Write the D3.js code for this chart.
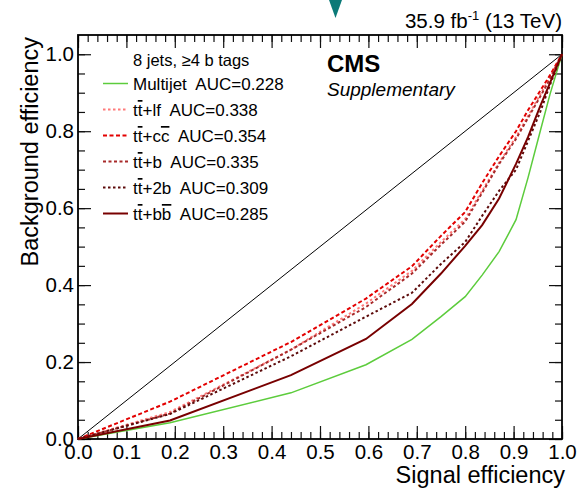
<!DOCTYPE html>
<html>
<head>
<meta charset="utf-8">
<script src="https://cdn.jsdelivr.net/npm/d3@7"></script>
<style>
  body { margin: 0; background: #fff; }
  svg { font-family: "Liberation Sans", Arial, Helvetica, sans-serif; }
</style>
</head>
<body>
<svg id="chart" width="583" height="490"></svg>
<script>
// signal efficiency at each cut point (same for every background)
const sigEff = [0, 0.19, 0.44, 0.595, 0.69, 0.75, 0.80, 0.835, 0.87, 0.905, 0.93, 0.955, 0.975, 1]
const bkgMultijet = [0, 0.042, 0.12, 0.193, 0.259, 0.318, 0.370, 0.426, 0.487, 0.57, 0.68, 0.80, 0.895, 1]
const bkgTTlf = [0, 0.07, 0.232, 0.352, 0.437, 0.512, 0.572, 0.645, 0.718, 0.785, 0.84, 0.895, 0.94, 1]
const bkgTTcc = [0, 0.097, 0.252, 0.365, 0.449, 0.528, 0.59, 0.665, 0.735, 0.80, 0.855, 0.905, 0.945, 1]
const bkgTTb = [0, 0.066, 0.232, 0.343, 0.43, 0.505, 0.565, 0.64, 0.715, 0.78, 0.835, 0.89, 0.935, 1]
const bkgTT2b = [0, 0.065, 0.215, 0.318, 0.38, 0.455, 0.512, 0.58, 0.645, 0.70, 0.775, 0.85, 0.92, 1]
const bkgTTbb = [0, 0.048, 0.166, 0.26, 0.351, 0.43, 0.502, 0.556, 0.625, 0.715, 0.785, 0.865, 0.925, 1]

// legend labels: [text, overlined?] pieces
const labels = [
  [['Multijet', false]],
  [['t', false], ['t', true], ['+lf', false]],
  [['t', false], ['t', true], ['+c', false], ['c', true]],
  [['t', false], ['t', true], ['+b', false]],
  [['t', false], ['t', true], ['+2b', false]],
  [['t', false], ['t', true], ['+b', false], ['b', true]]
]
const aucs = ['0.228', '0.338', '0.354', '0.335', '0.309', '0.285']
const xTicks = [0, 0.1, 0.2, 0.3, 0.4, 0.5, 0.6, 0.7, 0.8, 0.9, 1.0]
const yTicks = [0, 0.2, 0.4, 0.6, 0.8, 1.0]

const series = [bkgMultijet, bkgTTlf, bkgTTcc, bkgTTb, bkgTT2b, bkgTTbb]
const colors = ['#5ccc3c', '#ff7a7a', '#e30000', '#a82a2a', '#5c0a0a', '#780000']
const dashes = [null, '2.5,2.5', '4,2.5', '3,2.5', '2.5,2.5', null]
const widths = [1.5, 2, 2, 2, 2, 2]

const padL = 78, padR = 562, padT = 35, padB = 439
const svg = d3.select('#chart')

let xScale = d3.scaleLinear().domain([0, 1]).range([padL, padR])
let yScale = d3.scaleLinear().domain([0, 1.05]).range([padB, padT])

// tick helpers
let minorX = d3.range(0, 1.0001, 0.02)
let minorY = d3.range(0, 1.0001, 0.05)

let addAxis = function (axis, transform) {
  let g = svg.append('g').attr('transform', transform).call(axis)
  g.select('.domain').remove()
  g.selectAll('.tick line').attr('stroke', '#111').attr('stroke-width', 1.2)
  return g
}

let xb = addAxis(d3.axisBottom(xScale).tickValues(xTicks).tickSize(-13).tickPadding(5).tickFormat(d3.format('.1f')), `translate(0,${padB})`)
xb.selectAll('text').attr('font-size', 20.5).attr('fill', '#000').attr('font-family', 'inherit')
addAxis(d3.axisBottom(xScale).tickValues(minorX).tickSize(-7).tickFormat(''), `translate(0,${padB})`)
addAxis(d3.axisTop(xScale).tickValues(xTicks).tickSize(-13).tickFormat(''), `translate(0,${padT})`)
addAxis(d3.axisTop(xScale).tickValues(minorX).tickSize(-7).tickFormat(''), `translate(0,${padT})`)

let yl = addAxis(d3.axisLeft(yScale).tickValues(yTicks).tickSize(-13).tickPadding(4).tickFormat(d3.format('.1f')), `translate(${padL},0)`)
yl.selectAll('text').attr('font-size', 20.5).attr('fill', '#000').attr('font-family', 'inherit')
addAxis(d3.axisLeft(yScale).tickValues(minorY).tickSize(-7).tickFormat(''), `translate(${padL},0)`)
addAxis(d3.axisRight(yScale).tickValues(yTicks).tickSize(-13).tickFormat(''), `translate(${padR},0)`)
addAxis(d3.axisRight(yScale).tickValues(minorY).tickSize(-7).tickFormat(''), `translate(${padR},0)`)

// frame
svg.append('rect')
  .attr('x', padL).attr('y', padT)
  .attr('width', padR - padL).attr('height', padB - padT)
  .attr('fill', 'none').attr('stroke', '#000').attr('stroke-width', 1.8)

// random-guess diagonal
svg.append('path')
  .attr('d', d3.line().x(d => xScale(d)).y(d => yScale(d))([0, 1]))
  .attr('stroke', '#000').attr('stroke-width', 1).attr('fill', 'none')

let lineGen = d3.line()
  .x((d, i) => xScale(sigEff[i]))
  .y(d => yScale(d))

series.forEach((s, i) => {
  svg.append('path')
    .attr('d', lineGen(s))
    .attr('fill', 'none')
    .attr('stroke', colors[i])
    .attr('stroke-width', widths[i])
    .attr('stroke-dasharray', dashes[i])
})

// legend
let legend = svg.append('g')
legend.append('text')
  .attr('x', 133).attr('y', 66)
  .attr('font-size', 16.5)
  .text('8 jets, \u22654 b tags')
labels.forEach((parts, i) => {
  let yb = 90 + i * 26
  legend.append('line')
    .attr('x1', 103).attr('x2', 128)
    .attr('y1', yb - 6.5).attr('y2', yb - 6.5)
    .attr('stroke', colors[i])
    .attr('stroke-width', widths[i])
    .attr('stroke-dasharray', dashes[i])
  let t = legend.append('text').attr('x', 133).attr('y', yb).attr('font-size', 17).attr('xml:space', 'preserve')
  parts.forEach(p => {
    t.append('tspan').text(p[0]).style('text-decoration', p[1] ? 'overline' : null)
  })
  t.append('tspan').text('  AUC=' + aucs[i])
})

// CMS label
svg.append('text').attr('x', 327).attr('y', 72)
  .attr('font-size', 24).attr('font-weight', 'bold').text('CMS')
svg.append('text').attr('x', 327).attr('y', 95.5)
  .attr('font-size', 19).attr('font-style', 'italic').text('Supplementary')

// lumi label
let lumi = svg.append('text').attr('x', 562).attr('y', 28)
  .attr('text-anchor', 'end').attr('font-size', 20.5)
lumi.append('tspan').text('35.9 fb')
lumi.append('tspan').attr('font-size', 13).attr('dy', -8).text('-1')
lumi.append('tspan').attr('dy', 8).text(' (13 TeV)')

// axis titles
svg.append('text')
  .attr('x', 565).attr('y', 483)
  .attr('text-anchor', 'end').attr('font-size', 23.5)
  .text('Signal efficiency')
svg.append('text')
  .attr('transform', 'translate(38,37) rotate(-90)')
  .attr('text-anchor', 'end').attr('font-size', 23.5)
  .text('Background efficiency')

// marker at top of the picture
svg.append('path')
  .attr('d', 'M329,0 L342,0 L335.5,18 Z')
  .attr('fill', '#0b7a78')
</script>
</body>
</html>
